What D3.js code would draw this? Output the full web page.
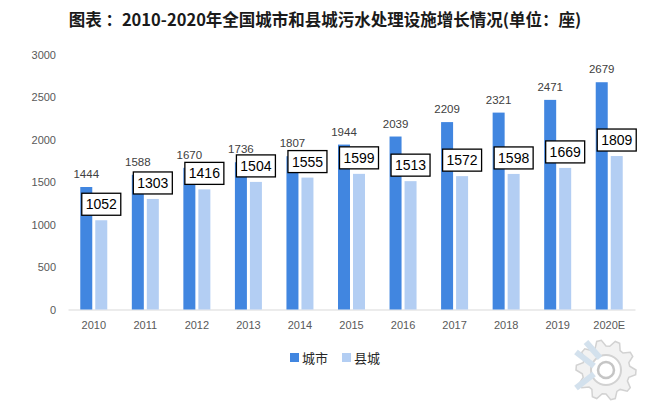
<!DOCTYPE html>
<html lang="zh">
<head>
<meta charset="UTF-8">
<script src="https://d3js.org/d3.v7.min.js"></script>
<style>
  body { margin: 0; background: #fff; }
  svg text { font-family: "Noto Sans CJK SC", "Noto Sans", sans-serif; }
  .tick text { fill: #595959; font-size: 11px; font-family: "Liberation Sans", Arial, sans-serif; }
  .city_lbl { fill: #404040; font-size: 11.5px; font-family: "Liberation Sans", Arial, sans-serif; }
  .box_lbl { fill: #000; font-size: 14px; font-family: "Liberation Sans", Arial, sans-serif; }
</style>
</head>
<body>
<script>
const width = 649, height = 412;
const years = ["2010","2011","2012","2013","2014","2015","2016","2017","2018","2019","2020E"];
const city = [1444,1588,1670,1736,1807,1944,2039,2209,2321,2471,2679];
const county = [1052,1303,1416,1504,1555,1599,1513,1572,1598,1669,1809];
const yTicks = [0,500,1000,1500,2000,2500,3000];
const cityColor = "#4186E0", countyColor = "#B3CEF3";

const svg = d3.select("body").append("svg")
  .attr("width", width).attr("height", height);

// title
svg.append("text")
  .attr("x", 325).attr("y", 26)
  .attr("text-anchor", "middle")
  .style("font-size", "16.5px").style("font-weight", "bold").style("fill", "#1a1a1a")
  .text("图表 ：2010-2020年全国城市和县城污水处理设施增长情况(单位：座)");

const x = d3.scaleBand().domain(years).range([68, 635]).padding(0);
const y = d3.scaleLinear().domain([0, 3000]).range([309.5, 55]);
const barW = 12, gap = 3;
const cx = d => x(d) + x.bandwidth() / 2;

// y axis (no line)
const ya = svg.append("g").attr("transform", "translate(56,0)")
  .call(d3.axisLeft(y).tickValues(yTicks).tickFormat(d3.format("d")).tickSize(0).tickPadding(0));
ya.select(".domain").remove();

// x axis
const xa = svg.append("g").attr("transform", "translate(0," + y(0) + ")")
  .call(d3.axisBottom(x).tickSize(0).tickPadding(12));
xa.select(".domain").attr("stroke", "#d9d9d9");

const rows = years.map((yr, i) => ({ yr: yr, c: city[i], k: county[i] }));

// watermark gear (decoration)
const gear = svg.append("g").attr("transform", "translate(606,370)").attr("opacity", 0.5);
const teeth = 10, rOut = 30, rIn = 24;
const gearPts = [];
for (let i = 0; i < teeth * 4; i++) {
  const a = (i / (teeth * 4)) * 2 * Math.PI;
  const r = (i % 4 === 0 || i % 4 === 1) ? rOut : rIn;
  gearPts.push([r * Math.cos(a), r * Math.sin(a)]);
}
gear.append("path").attr("d", d3.line().curve(d3.curveLinearClosed)(gearPts))
  .attr("fill", "#e6e6e6").attr("stroke", "#a6a6a6").attr("stroke-width", 1.5);
gear.append("circle").attr("r", 15).attr("fill", "#fff").attr("stroke", "#a6a6a6").attr("stroke-width", 2);
gear.append("circle").attr("r", 8).attr("fill", "#fff").attr("stroke", "#8c8c8c").attr("stroke-width", 2.5);
gear.append("path").attr("d", "M-30,-18 L-12,-4 M-30,18 L-12,4 M-20,-28 L-6,-12")
  .attr("stroke", "#a9c4dc").attr("stroke-width", 6).attr("fill", "none");

// bars
svg.selectAll(".bar_c").data(rows).enter().append("rect")
  .attr("class", "bar_c")
  .attr("x", d => cx(d.yr) - gap / 2 - barW)
  .attr("y", d => y(d.c)).attr("width", barW)
  .attr("height", d => y(0) - y(d.c))
  .attr("fill", cityColor);
svg.selectAll(".bar_k").data(rows).enter().append("rect")
  .attr("class", "bar_k")
  .attr("x", d => cx(d.yr) + gap / 2)
  .attr("y", d => y(d.k)).attr("width", barW)
  .attr("height", d => y(0) - y(d.k))
  .attr("fill", countyColor);

// city labels
svg.selectAll(".city_lbl").data(rows).enter().append("text")
  .attr("class", "city_lbl")
  .attr("x", d => cx(d.yr) - gap / 2 - barW / 2)
  .attr("y", d => y(d.c) - 9)
  .attr("text-anchor", "middle")
  .text(d => d.c);

// county labels in boxes
const bw = 39, bh = 22;
const box = svg.selectAll(".box").data(rows).enter().append("g").attr("class", "box")
  .attr("transform", d => "translate(" + (cx(d.yr) + gap / 2 + barW / 2) + "," + (y(d.k) - 5 - bh / 2) + ")");
box.append("rect").attr("x", -bw / 2).attr("y", -bh / 2).attr("width", bw).attr("height", bh)
  .attr("fill", "#fff").attr("stroke", "#000").attr("stroke-width", 1.3);
box.append("text").attr("class", "box_lbl").attr("text-anchor", "middle").attr("dy", "0.36em")
  .text(d => d.k);

// legend
const legend = [{ name: "城市", color: cityColor, x: 290 }, { name: "县城", color: countyColor, x: 342 }];
const lg = svg.selectAll(".lg").data(legend).enter().append("g")
  .attr("transform", d => "translate(" + d.x + ",353)");
lg.append("rect").attr("width", 9).attr("height", 9).attr("fill", d => d.color);
lg.append("text").attr("x", 12).attr("y", 9.5).style("font-size", "13px").style("fill", "#262626")
  .text(d => d.name);
</script>
</body>
</html>
